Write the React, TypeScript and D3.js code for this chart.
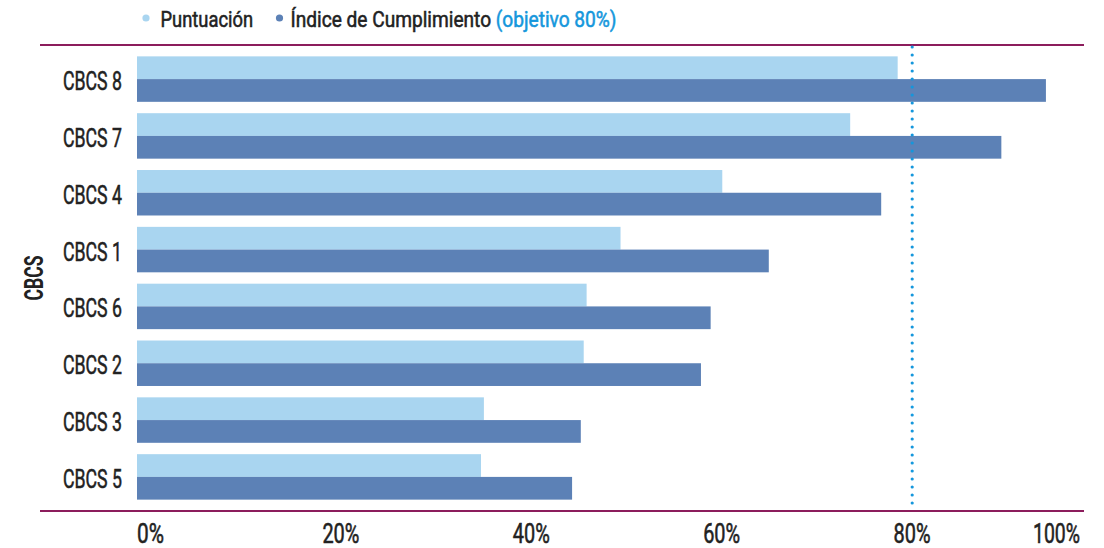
import React from "react";
import * as d3 from "d3";

const categories = ["CBCS 8", "CBCS 7", "CBCS 4", "CBCS 1", "CBCS 6", "CBCS 2", "CBCS 3", "CBCS 5"];
const puntuacion = [0.785, 0.736, 0.604, 0.499, 0.464, 0.461, 0.358, 0.355];
const cumplimiento = [0.938, 0.892, 0.768, 0.652, 0.592, 0.582, 0.458, 0.449];
const tickValues = [0, 0.2, 0.4, 0.6, 0.8, 1];
const tickLabels = ["0%", "20%", "40%", "60%", "80%", "100%"];
const objetivo = 0.8;
const seriesNames = ["Puntuación", "Índice de Cumplimiento"];

const W = 1104;
const H = 548;
const FONT = "'Roboto', 'Liberation Sans Narrow', 'DejaVu Sans Condensed', sans-serif";
const C_LIGHT = "#a9d5f0";
const C_DARK = "#5c81b6";
const C_LINE = "#8c1d5c";
const C_TARGET = "#1597dc";
const C_TEXT = "#222222";
const EMB = 0.55;

export default function App() {
  const x = d3.scaleLinear().domain([0, 1]).range([137, 1106]);
  const labelX = d3.scaleLinear().domain([0, 0.8]).range([150.5, 912]);
  const y = d3.scaleBand<string>().domain(categories).range([45, 511]).paddingInner(0.2).paddingOuter(0.2);
  const sub = d3.scaleBand<string>().domain(seriesNames).range([0, y.bandwidth()]);
  const series = [
    { name: seriesNames[0], values: puntuacion, color: C_LIGHT },
    { name: seriesNames[1], values: cumplimiento, color: C_DARK },
  ];
  const labelLen: Record<string, number> = { "0%": 27, "20%": 37, "40%": 37, "60%": 37, "80%": 37, "100%": 47 };

  return (
    <svg width={W} height={H} style={{ position: "absolute", left: 0, top: 0, background: "#fff" }} fontFamily={FONT}>
      {/* legend */}
      <circle cx={146} cy={18} r={3.6} fill={C_LIGHT} />
      <text x={160.5} y={27} fontSize={22} fill={C_TEXT} stroke={C_TEXT} strokeWidth={EMB} textLength={92.6} lengthAdjust="spacingAndGlyphs">
        {seriesNames[0]}
      </text>
      <circle cx={279.5} cy={18} r={3.6} fill={C_DARK} />
      <text x={290.5} y={27} fontSize={22} fill={C_TEXT} stroke={C_TEXT} strokeWidth={EMB} textLength={326} lengthAdjust="spacingAndGlyphs">
        {seriesNames[1]}{" "}
        <tspan fill={C_TARGET} stroke={C_TARGET}>(objetivo 80%)</tspan>
      </text>

      {/* bars */}
      {series.map((s) =>
        categories.map((c, i) => (
          <rect
            key={s.name + c}
            x={x(0)}
            y={(y(c) as number) + (sub(s.name) as number)}
            width={x(s.values[i]) - x(0)}
            height={sub.bandwidth()}
            fill={s.color}
          />
        ))
      )}

      {/* frame lines */}
      <line x1={40} x2={1084} y1={45} y2={45} stroke={C_LINE} strokeWidth={2.2} />
      <line x1={40} x2={1084} y1={511} y2={511} stroke={C_LINE} strokeWidth={2.2} />

      {/* target line */}
      <line
        x1={x(objetivo)}
        x2={x(objetivo)}
        y1={47}
        y2={510}
        stroke={C_TARGET}
        strokeWidth={3.2}
        strokeDasharray="0 8"
        strokeLinecap="round"
      />

      {/* category labels */}
      {categories.map((c) => (
        <text
          key={c}
          x={122}
          y={(y(c) as number) + y.bandwidth() / 2 + 11}
          textAnchor="end"
          fontSize={26}
          fill={C_TEXT}
          stroke={C_TEXT}
          strokeWidth={EMB}
          textLength={59}
          lengthAdjust="spacingAndGlyphs"
        >
          {c}
        </text>
      ))}

      {/* axis title */}
      <text
        transform={`translate(43,${(y.range()[0] + y.range()[1]) / 2}) rotate(-90)`}
        textAnchor="middle"
        fontSize={26}
        fontWeight="bold"
        fill={C_TEXT}
        textLength={45}
        lengthAdjust="spacingAndGlyphs"
      >
        CBCS
      </text>

      {/* tick labels */}
      {tickValues.map((v, i) => {
        const last = i === tickValues.length - 1;
        return (
          <text
            key={v}
            x={last ? 1080 : labelX(v)}
            y={542.5}
            textAnchor={last ? "end" : "middle"}
            fontSize={27.5}
            fill={C_TEXT}
            stroke={C_TEXT}
            strokeWidth={EMB}
            textLength={labelLen[tickLabels[i]]}
            lengthAdjust="spacingAndGlyphs"
          >
            {tickLabels[i]}
          </text>
        );
      })}
    </svg>
  );
}
